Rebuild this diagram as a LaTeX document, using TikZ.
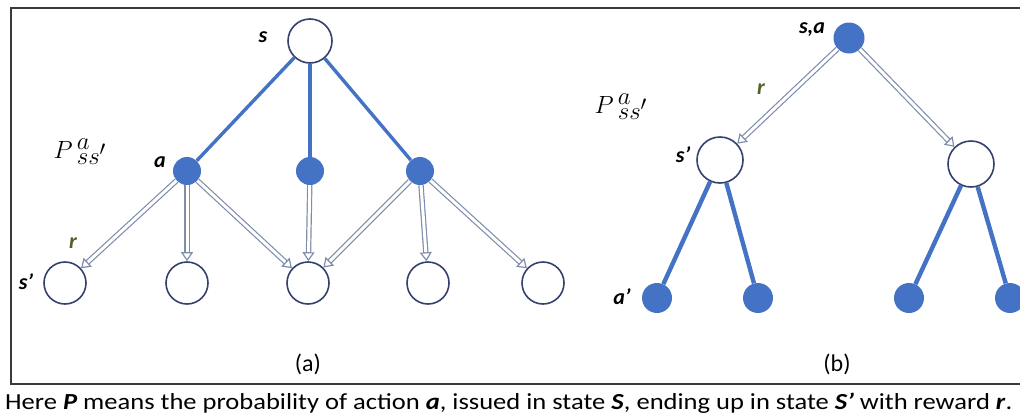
\documentclass[tikz,border=0pt]{standalone}
\usepackage{fontspec}
\setmainfont{Carlito}
\usetikzlibrary{arrows.meta}
\definecolor{actblue}{HTML}{4472C4}
\definecolor{ringnavy}{HTML}{34406E}
\definecolor{arrowgray}{HTML}{7F8DAA}
\definecolor{rgreen}{HTML}{4F6228}
\definecolor{framegray}{HTML}{3A3A3A}
\tikzset{
  statenode/.style={circle, draw=ringnavy, line width=1.6pt, fill=white, inner sep=0pt},
  actnode/.style={circle, fill=actblue, inner sep=0pt},
  bluelink/.style={draw=actblue, line width=3.4pt},
  thicklink/.style={draw=actblue, line width=4.4pt},
  dblarrow/.style={draw=arrowgray, line width=1.2pt, double=white, double distance=3pt,
    -{Triangle[open, length=9pt, width=12pt, line width=1.2pt]}},
  lbl/.style={font=\fontsize{22}{24}\selectfont\bfseries\itshape, inner sep=0pt},
  rlbl/.style={lbl, text=rgreen},
  panellbl/.style={font=\fontsize{24}{26}\selectfont, inner sep=0pt},
  problbl/.style={font=\fontsize{40}{44}\selectfont, inner sep=0pt}
}
% transition probability symbol
\newcommand{\transprob}{$P\mkern3mu{}^{a}_{ss\smash{'}}$}
\begin{document}
\begin{tikzpicture}[x=1pt, y=-1pt]
\useasboundingbox (0,0) rectangle (1020,418);
\draw[framegray, line width=2.4pt] (11,8) rectangle (1030,384);

% ---- (a): state, actions and successor states
\node[statenode, minimum size=44pt] (s) at (310,41) {};
\node[actnode, minimum size=28pt] (a1) at (187,171) {};
\node[actnode, minimum size=28pt] (a2) at (310,171) {};
\node[actnode, minimum size=28pt] (a3) at (420,171) {};
\foreach \i/\x in {1/65, 2/187, 3/308, 4/428, 5/543}
  \node[statenode, minimum size=42pt] (c\i) at (\x,283) {};

\draw[bluelink] (s) -- (a1);
\draw[bluelink] (s) -- (a2);
\draw[bluelink] (s) -- (a3);

\draw[dblarrow] (a1) -- (c1);
\draw[dblarrow] (a1) -- (c2);
\draw[dblarrow] (a1) -- (c3);
\draw[dblarrow] (a2) -- (c3);
\draw[dblarrow] (a3) -- (c3);
\draw[dblarrow] (a3) -- (c4);
\draw[dblarrow] (a3) -- (c5);

\node[lbl] (ls) at (263,37) {s};
\node[lbl] (la) at (160,162) {a};
\node[rlbl] (lr) at (73,243) {r};
\node[lbl] (lsp) at (26,282) {s’};
\node[problbl] (pa) at (80,152) {\transprob};
\node[panellbl] (capa) at (308,364) {(a)};

% ---- (b): state-action pair, successor states, next actions
\node[actnode, minimum size=31pt] (sa) at (849,38) {};
\node[statenode, minimum size=46pt] (t1) at (720,160) {};
\node[statenode, minimum size=46pt] (t2) at (971,164) {};
\node[actnode, minimum size=30pt] (b1) at (657,298) {};
\node[actnode, minimum size=30pt] (b2) at (758,298) {};
\node[actnode, minimum size=30pt] (b3) at (909,298) {};
\node[actnode, minimum size=30pt] (b4) at (1010,298) {};

\draw[dblarrow] (sa) -- (t1);
\draw[dblarrow] (sa) -- (t2);
\draw[thicklink] (t1) -- (b1);
\draw[thicklink] (t1) -- (b2);
\draw[thicklink] (t2) -- (b3);
\draw[thicklink] (t2) -- (b4);

\node[lbl] (lsa) at (812,30) {s,a};
\node[rlbl] (lr2) at (761,89) {r};
\node[lbl] (lsp2) at (683,155) {s’};
\node[lbl] (lap) at (622,297) {a’};
\node[problbl] (pb) at (621,107) {\transprob};
\node[panellbl] (capb) at (837,364) {(b)};

% ---- caption
\node[anchor=west, inner sep=0pt, font=\fontsize{23}{25}\selectfont] (note) at (5,403)
  {\resizebox{1007pt}{\height}{Here \textbf{\textit{P}} means the probability of action \textbf{\textit{a}}, issued in state \textbf{\textit{S}}, ending up in state \textbf{\textit{S’}} with reward \textbf{\textit{r}}.}};
\end{tikzpicture}
\end{document}
